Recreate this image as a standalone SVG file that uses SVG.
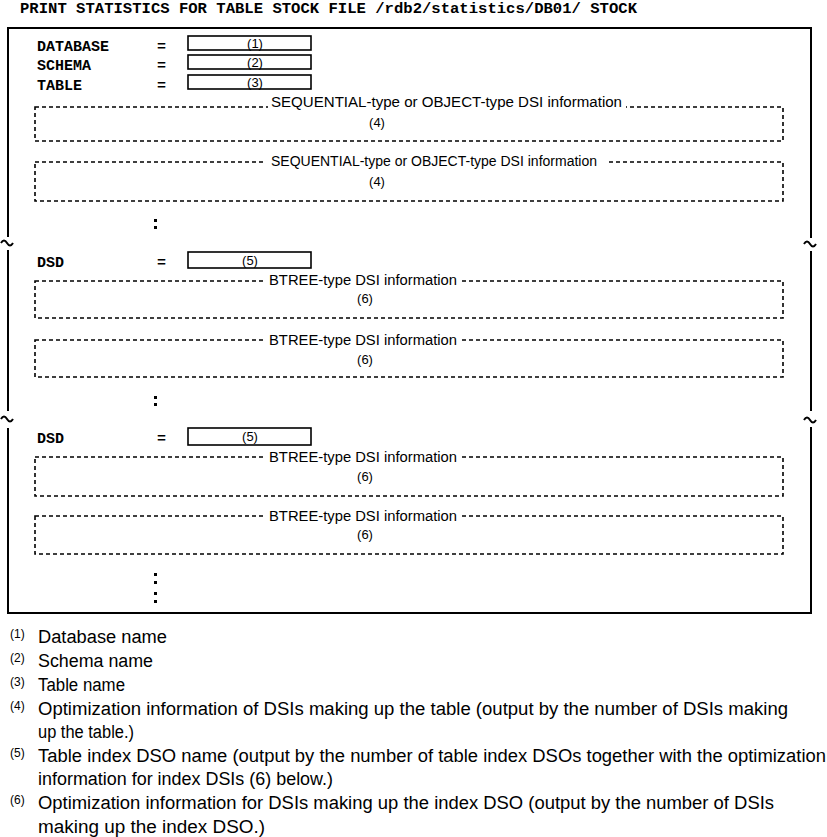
<svg xmlns="http://www.w3.org/2000/svg" width="827" height="837" viewBox="0 0 827 837">
<style>
.mono{font-family:"Liberation Mono","DejaVu Sans Mono",monospace;font-weight:bold;font-size:15px;fill:#000}
.fld{fill:#fff;stroke:#000;stroke-width:1.6}
.fnum{font-family:"Liberation Sans",Arial,sans-serif;font-size:13px;fill:#000;text-anchor:middle}
.dash{fill:none;stroke:#000;stroke-width:1.6;stroke-dasharray:4 3}
.lbl{font-family:"Liberation Sans",Arial,sans-serif;font-size:14px;fill:#000}
.num{font-family:"Liberation Sans",Arial,sans-serif;font-size:13px;fill:#000;text-anchor:middle}
.frame{fill:none;stroke:#000;stroke-width:2}
.note{font-family:"Liberation Sans",Arial,sans-serif;font-size:18px;fill:#000}
.sup{font-family:"Liberation Sans",Arial,sans-serif;font-size:12px;fill:#000}
.dot{fill:#000}
</style>
<rect width="827" height="837" fill="#fff"/>
<text class="mono" x="20" y="13" textLength="617" lengthAdjust="spacingAndGlyphs">PRINT STATISTICS FOR TABLE STOCK  FILE /rdb2/statistics/DB01/ STOCK</text>

<g id="frame">
<path class="frame" d="M8,237 V28 H811 V238 M811,251 V411 M811,427 V613 H8 V428 M8,411 V250"/>
<path class="frame" d="M1,243 q3,-5 6,0 t6,0 M1,419 q3,-5 6,0 t6,0 M804,244 q3,-5 6,0 t6,0 M804,420 q3,-5 6,0 t6,0" stroke-width="1.6"/>
</g>

<g id="database">
<text class="mono" x="37" y="51">DATABASE</text>
<text class="mono" x="157" y="51">=</text>
<rect class="fld" x="188" y="36" width="123" height="14"/>
<text class="fnum" x="255" y="48">(1)</text>
</g>
<g id="schema">
<text class="mono" x="37" y="70">SCHEMA</text>
<text class="mono" x="157" y="70">=</text>
<rect class="fld" x="188" y="55" width="123" height="14"/>
<text class="fnum" x="255" y="67">(2)</text>
</g>
<g id="table">
<text class="mono" x="37" y="90">TABLE</text>
<text class="mono" x="157" y="90">=</text>
<rect class="fld" x="188" y="75" width="123" height="14"/>
<text class="fnum" x="255" y="87">(3)</text>
</g>

<g id="seq1">
<rect class="dash" x="35" y="107" width="748" height="34"/>
<rect x="268" y="95" width="358" height="14" fill="#fff"/>
<text class="lbl" x="271" y="107" textLength="351" lengthAdjust="spacingAndGlyphs">SEQUENTIAL-type or OBJECT-type DSI information</text>
<text class="num" x="377" y="127">(4)</text>
</g>
<g id="seq2">
<rect class="dash" x="35" y="162" width="748" height="39"/>
<rect x="266" y="154" width="340" height="14" fill="#fff"/>
<text class="lbl" x="271" y="166" textLength="326" lengthAdjust="spacingAndGlyphs">SEQUENTIAL-type or OBJECT-type DSI information</text>
<text class="num" x="377" y="186">(4)</text>
</g>
<g id="dots1"><rect class="dot" x="154" y="219" width="3" height="3"/><rect class="dot" x="154" y="226" width="3" height="3"/></g>

<g id="dsd1">
<text class="mono" x="37" y="267">DSD</text>
<text class="mono" x="157" y="267">=</text>
<rect class="fld" x="188" y="252" width="123" height="16"/>
<text class="fnum" x="250" y="265">(5)</text>
</g>
<g id="btree1">
<rect class="dash" x="35" y="281" width="748" height="37"/>
<rect x="266" y="273" width="194" height="15" fill="#fff"/>
<text class="lbl" x="269" y="285" textLength="188" lengthAdjust="spacingAndGlyphs">BTREE-type DSI information</text>
<text class="num" x="365" y="303">(6)</text>
</g>
<g id="btree2">
<rect class="dash" x="35" y="340" width="748" height="37"/>
<rect x="266" y="332" width="194" height="15" fill="#fff"/>
<text class="lbl" x="269" y="345" textLength="188" lengthAdjust="spacingAndGlyphs">BTREE-type DSI information</text>
<text class="num" x="365" y="364">(6)</text>
</g>
<g id="dots2"><rect class="dot" x="154" y="396" width="3" height="3"/><rect class="dot" x="154" y="403" width="3" height="3"/></g>

<g id="dsd2">
<text class="mono" x="37" y="443">DSD</text>
<text class="mono" x="157" y="443">=</text>
<rect class="fld" x="188" y="428" width="123" height="17"/>
<text class="fnum" x="250" y="441">(5)</text>
</g>
<g id="btree3">
<rect class="dash" x="35" y="457" width="748" height="39"/>
<rect x="266" y="449" width="194" height="15" fill="#fff"/>
<text class="lbl" x="269" y="462" textLength="188" lengthAdjust="spacingAndGlyphs">BTREE-type DSI information</text>
<text class="num" x="365" y="481">(6)</text>
</g>
<g id="btree4">
<rect class="dash" x="35" y="516" width="748" height="38"/>
<rect x="266" y="508" width="194" height="15" fill="#fff"/>
<text class="lbl" x="269" y="521" textLength="188" lengthAdjust="spacingAndGlyphs">BTREE-type DSI information</text>
<text class="num" x="365" y="539">(6)</text>
</g>
<g id="dots3"><rect class="dot" x="154" y="573" width="3" height="3"/><rect class="dot" x="154" y="581" width="3" height="3"/><rect class="dot" x="154" y="592" width="3" height="3"/><rect class="dot" x="154" y="600" width="3" height="3"/></g>

<g id="notes">
<text class="sup" x="10" y="638">(1)</text>
<text class="note" x="38" y="643" textLength="129" lengthAdjust="spacingAndGlyphs">Database name</text>
<text class="sup" x="10" y="662">(2)</text>
<text class="note" x="38" y="667" textLength="115" lengthAdjust="spacingAndGlyphs">Schema name</text>
<text class="sup" x="10" y="686">(3)</text>
<text class="note" x="38" y="691" textLength="87" lengthAdjust="spacingAndGlyphs">Table name</text>
<text class="sup" x="10" y="710">(4)</text>
<text class="note" x="38" y="715" textLength="750" lengthAdjust="spacingAndGlyphs">Optimization information of DSIs making up the table (output by the number of DSIs making</text>
<text class="note" x="38" y="738" textLength="96" lengthAdjust="spacingAndGlyphs">up the table.)</text>
<text class="sup" x="10" y="757">(5)</text>
<text class="note" x="38" y="762" textLength="788" lengthAdjust="spacingAndGlyphs">Table index DSO name (output by the number of table index DSOs together with the optimization</text>
<text class="note" x="38" y="785" textLength="295" lengthAdjust="spacingAndGlyphs">information  for index DSIs (6) below.)</text>
<text class="sup" x="10" y="804">(6)</text>
<text class="note" x="38" y="809" textLength="736" lengthAdjust="spacingAndGlyphs">Optimization information for DSIs making up the index DSO (output by the number of DSIs</text>
<text class="note" x="38" y="833" textLength="227" lengthAdjust="spacingAndGlyphs">making up the index DSO.)</text>
</g>
</svg>
